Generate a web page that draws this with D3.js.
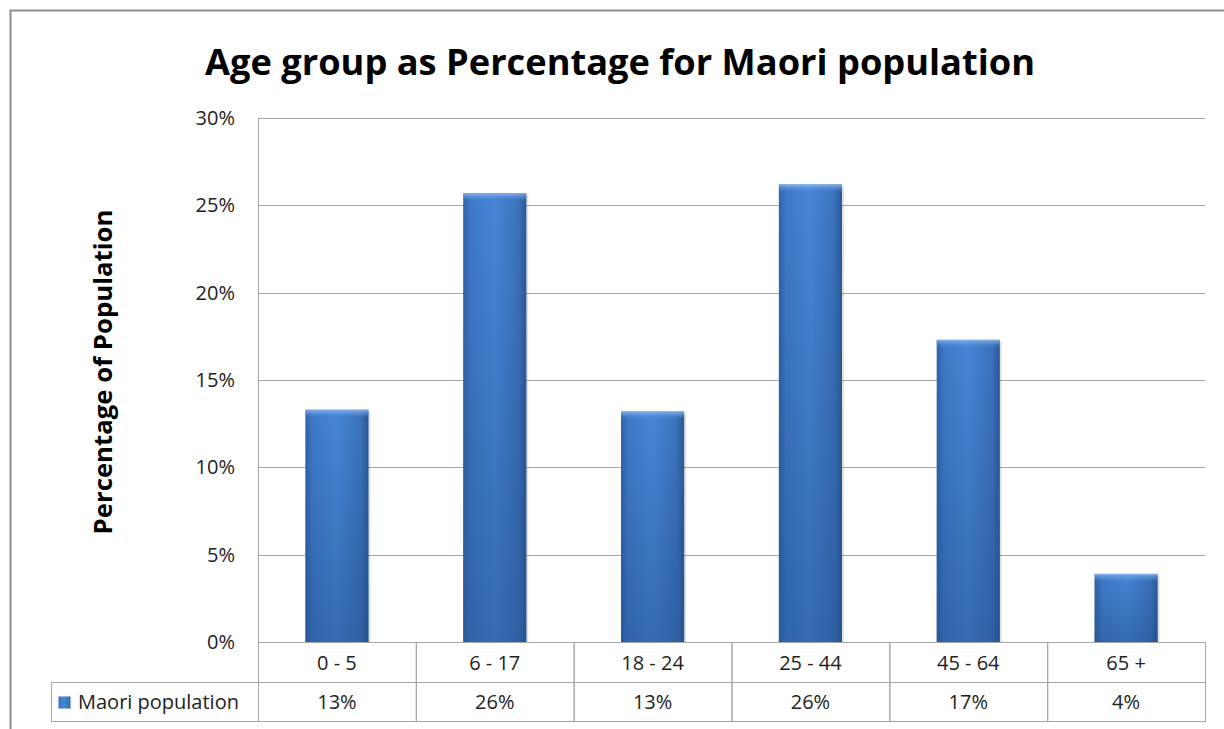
<!DOCTYPE html>
<html lang="en">
<head>
    <meta charset="UTF-8">
    <title>Age group as Percentage for Maori population</title>
    <style>
        body {
            margin: 0;
            padding: 0;
            background: #fff;
        }
        svg {
            font-family: "Open Sans", "DejaVu Sans", sans-serif;
        }
        .grid line {
            stroke: #a6a6a6;
            stroke-width: 1px;
        }
        .tick-label {
            font-size: 20px;
            fill: #222;
        }
        .cell {
            fill: none;
            stroke: #a6a6a6;
            stroke-width: 1px;
        }
    </style>
</head>
<body>
    <div id="chart"></div>

    <script src="https://d3js.org/d3.v7.min.js"></script>
    <script>
        // Data
        const categories = ["0 - 5", "6 - 17", "18 - 24", "25 - 44", "45 - 64", "65 +"];
        const values = [13.3, 25.7, 13.2, 26.2, 17.3, 3.9];
        const tableLabels = ["13%", "26%", "13%", "26%", "17%", "4%"];
        const yTicks = [0, 5, 10, 15, 20, 25, 30];
        const seriesName = "Maori population";
        const title = "Age group as Percentage for Maori population";
        const yTitle = "Percentage of Population";

        const W = 1224, H = 729;
        const plot = { left: 258, right: 1205, top: 118, bottom: 642 };
        const rowH = [40, 39];

        const svg = d3.select("#chart").append("svg")
            .attr("width", W)
            .attr("height", H);

        // gradients for the bevelled bars
        const defs = svg.append("defs");
        const gh = defs.append("linearGradient").attr("id", "barH")
            .attr("x1", "0").attr("x2", "1").attr("y1", "0").attr("y2", "0");
        gh.append("stop").attr("offset", "0").attr("stop-color", "#2f62a8");
        gh.append("stop").attr("offset", "0.12").attr("stop-color", "#3f7ac8");
        gh.append("stop").attr("offset", "0.5").attr("stop-color", "#4686d6");
        gh.append("stop").attr("offset", "0.88").attr("stop-color", "#3b72bc");
        gh.append("stop").attr("offset", "1").attr("stop-color", "#2a5895");

        const gv = defs.append("linearGradient").attr("id", "barV")
            .attr("x1", "0").attr("x2", "0").attr("y1", "0").attr("y2", "1");
        gv.append("stop").attr("offset", "0").attr("stop-color", "#8fb8ee").attr("stop-opacity", 0.9);
        gv.append("stop").attr("offset", "1").attr("stop-color", "#4a88d8").attr("stop-opacity", 0);

        const gb = defs.append("linearGradient").attr("id", "barB")
            .attr("x1", "0").attr("x2", "0").attr("y1", "0").attr("y2", "1");
        gb.append("stop").attr("offset", "0").attr("stop-color", "#1f4a85").attr("stop-opacity", 0);
        gb.append("stop").attr("offset", "1").attr("stop-color", "#1f4a85").attr("stop-opacity", 0.45);

        // outer chart border
        svg.append("rect")
            .attr("x", 10.5).attr("y", 10.5)
            .attr("width", W + 20).attr("height", H + 20)
            .attr("fill", "none")
            .attr("stroke", "#8c8c8c")
            .attr("stroke-width", 2);

        // scales
        const x = d3.scaleBand()
            .domain(categories)
            .range([plot.left, plot.right])
            .paddingInner(0.6)
            .paddingOuter(0.3);

        const band = d3.scaleBand()
            .domain(categories)
            .range([plot.left, plot.right]);

        const y = d3.scaleLinear()
            .domain([0, 30])
            .range([plot.bottom, plot.top]);

        // gridlines
        svg.append("g").attr("class", "grid")
            .selectAll("line")
            .data(yTicks)
            .enter().append("line")
            .attr("x1", plot.left)
            .attr("x2", plot.right)
            .attr("y1", d => Math.round(y(d)) + 0.5)
            .attr("y2", d => Math.round(y(d)) + 0.5);

        // y axis line
        svg.append("line")
            .attr("x1", plot.left + 0.5).attr("x2", plot.left + 0.5)
            .attr("y1", plot.top).attr("y2", plot.bottom + rowH[0])
            .attr("stroke", "#a6a6a6");

        // tick labels
        svg.selectAll(".ylab")
            .data(yTicks)
            .enter().append("text")
            .attr("class", "tick-label")
            .attr("x", 235)
            .attr("y", d => y(d) + 7)
            .attr("text-anchor", "end")
            .text(d => d + "%");

        // bars
        const bars = svg.selectAll(".bar")
            .data(values)
            .enter().append("g")
            .attr("class", "bar");

        bars.append("rect")
            .attr("x", (d, i) => x(categories[i]) + 2)
            .attr("y", d => y(d) + 2)
            .attr("width", x.bandwidth())
            .attr("height", d => y(0) - y(d) - 2)
            .attr("fill", "#000")
            .attr("opacity", 0.12);

        bars.append("rect")
            .attr("x", (d, i) => x(categories[i]))
            .attr("y", d => y(d))
            .attr("width", x.bandwidth())
            .attr("height", d => y(0) - y(d))
            .attr("fill", "url(#barH)");

        bars.append("rect")
            .attr("x", (d, i) => x(categories[i]))
            .attr("y", d => y(d))
            .attr("width", x.bandwidth())
            .attr("height", 8)
            .attr("fill", "url(#barV)");

        bars.append("rect")
            .attr("x", (d, i) => x(categories[i]))
            .attr("y", d => y(d))
            .attr("width", x.bandwidth())
            .attr("height", d => y(0) - y(d))
            .attr("fill", "url(#barB)");

        // data table
        const t0 = plot.bottom, t1 = t0 + rowH[0], t2 = t1 + rowH[1];
        const tbl = svg.append("g");

        categories.forEach((c, i) => {
            tbl.append("rect").attr("class", "cell")
                .attr("x", band(c) + 0.5).attr("y", t0 + 0.5)
                .attr("width", band.bandwidth()).attr("height", rowH[0]);
            tbl.append("rect").attr("class", "cell")
                .attr("x", band(c) + 0.5).attr("y", t1 + 0.5)
                .attr("width", band.bandwidth()).attr("height", rowH[1]);
            tbl.append("text").attr("class", "tick-label")
                .attr("x", band(c) + band.bandwidth() / 2)
                .attr("y", t0 + 28)
                .attr("text-anchor", "middle")
                .text(c);
            tbl.append("text").attr("class", "tick-label")
                .attr("x", band(c) + band.bandwidth() / 2)
                .attr("y", t1 + 27)
                .attr("text-anchor", "middle")
                .text(tableLabels[i]);
        });

        // legend cell
        tbl.append("rect").attr("class", "cell")
            .attr("x", 51.5).attr("y", t1 + 0.5)
            .attr("width", plot.left - 51).attr("height", rowH[1]);
        tbl.append("rect")
            .attr("x", 58.5).attr("y", t1 + 14.5)
            .attr("width", 12).attr("height", 12)
            .attr("fill", "url(#barH)")
            .attr("stroke", "#9bb8dd");
        tbl.append("text").attr("class", "tick-label")
            .attr("x", 78)
            .attr("y", t1 + 27)
            .text(seriesName);

        // fit text to a width
        function fit(sel, target) {
            const w = sel.node().getComputedTextLength();
            const fs = parseFloat(sel.attr("font-size"));
            sel.attr("font-size", fs * target / w);
        }

        const tt = svg.append("text")
            .attr("x", 620).attr("y", 75)
            .attr("text-anchor", "middle")
            .attr("font-size", 36)
            .attr("font-weight", "bold")
            .attr("fill", "#000")
            .text(title);
        fit(tt, 830);

        const yt = svg.append("text")
            .attr("transform", "translate(112,372) rotate(-90)")
            .attr("text-anchor", "middle")
            .attr("font-size", 20)
            .attr("font-weight", "bold")
            .attr("fill", "#000")
            .text(yTitle);
        fit(yt, 325);
    </script>
</body>
</html>
